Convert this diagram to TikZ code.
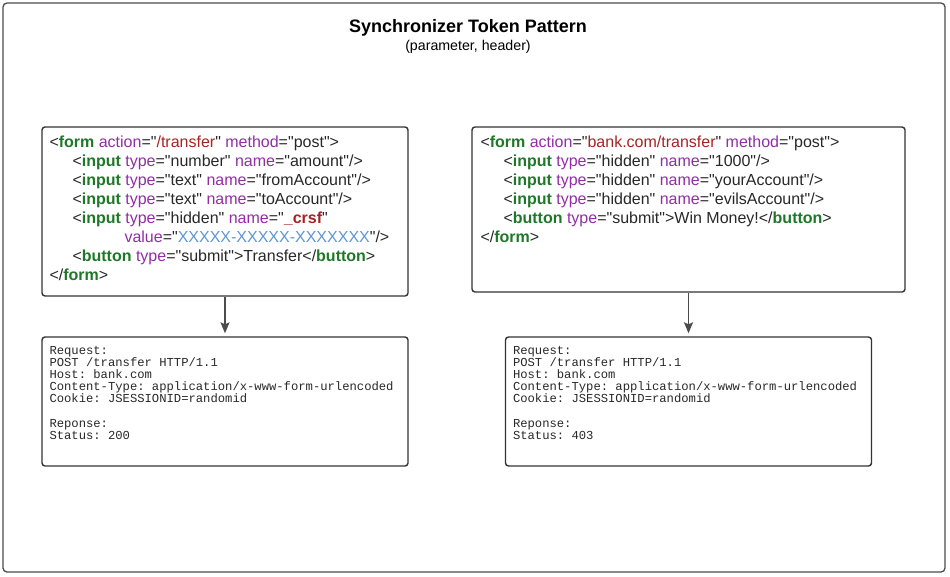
\documentclass[tikz,border=0pt]{standalone}
\usepackage{fontspec}
\setmainfont{Liberation Sans}
\setmonofont{Liberation Mono}
\newfontfamily\codefont{Liberation Sans}
\usetikzlibrary{arrows,arrows.meta,positioning}
\definecolor{tagc}{RGB}{30,120,40}
\definecolor{attc}{RGB}{145,45,165}
\definecolor{valc}{RGB}{165,35,35}
\definecolor{tokc}{RGB}{95,150,215}
\definecolor{inkc}{RGB}{40,40,40}
\tikzset{
    frame/.style={draw=black!70,line width=1.3pt,rounded corners=4pt},
    box/.style={draw=black!80,line width=1.4pt,rounded corners=3pt,inner sep=0pt},
    code/.style={anchor=north west,align=left,inner sep=0pt,text=inkc,font=\codefont\fontsize{16}{19.1}\selectfont},
    reqtext/.style={anchor=north west,align=left,inner sep=0pt,text=inkc,font=\ttfamily\fontsize{12.2}{12.2}\selectfont},
    pre/.style={-{Stealth[length=11pt,width=9pt,inset=2pt]},line width=1.2pt,draw=black!70,shorten >=3pt}
}
\newcommand{\tg}[1]{\textcolor{tagc}{\textbf{#1}}}
\newcommand{\at}[1]{\textcolor{attc}{#1}}
\newcommand{\vl}[1]{\textcolor{valc}{#1}}
\newcommand{\ind}{\hspace*{23pt}}

\begin{document}
\begin{tikzpicture}[x=1pt,y=-1pt]

                \useasboundingbox (0,0) rectangle (950,576);
                \draw[frame] (3,3) rectangle (945,572);

                \node         (title)    at (468,28) {\fontsize{18}{20}\selectfont\bfseries Synchronizer Token Pattern};
                \node         (subtitle) at (468,46.5) {\fontsize{14.2}{16}\selectfont (parameter, header)};

                % forms
                \node[box]    (form left)  [minimum width=366pt,minimum height=169pt] at (225,211.5)   {};
                \node[box]    (form right) [minimum width=433pt,minimum height=165pt] at (688.5,209.5) {};

                \node[code]   (code left)  [below right=9pt and 8pt of form left.north west]
                    {<\tg{form} \at{action}="\vl{/transfer}" \at{method}="post">\\
                     \ind<\tg{input} \at{type}="number" \at{name}="amount"/>\\
                     \ind<\tg{input} \at{type}="text" \at{name}="fromAccount"/>\\
                     \ind<\tg{input} \at{type}="text" \at{name}="toAccount"/>\\
                     \ind<\tg{input} \at{type}="hidden" \at{name}="\textcolor{valc}{\textbf{\_crsf}}"\\
                     \hspace*{75pt}\at{value}="\textcolor{tokc}{XXXXX-XXXXX-XXXXXXX}"/>\\
                     \ind<\tg{button} \at{type}="submit">Transfer</\tg{button}>\\
                     </\tg{form}>};

                \node[code]   (code right) [below right=9pt and 9pt of form right.north west]
                    {<\tg{form} \at{action}="\vl{bank.com/transfer}" \at{method}="post">\\
                     \ind<\tg{input} \at{type}="hidden" \at{name}="1000"/>\\
                     \ind<\tg{input} \at{type}="hidden" \at{name}="yourAccount"/>\\
                     \ind<\tg{input} \at{type}="hidden" \at{name}="evilsAccount"/>\\
                     \ind<\tg{button} \at{type}="submit">Win Money!</\tg{button}>\\
                     </\tg{form}>};

                % requests
                \node[box]    (req left)   [minimum width=366pt,minimum height=129pt] at (225,401.5)   {};
                \node[box]    (req right)  [minimum width=366pt,minimum height=129pt] at (688.5,401.5) {};

                \node[reqtext] (http left)  [below right=9.5pt and 8pt of req left.north west]
                    {Request:\\ POST /transfer HTTP/1.1\\ Host: bank.com\\
                     Content-Type: application/x-www-form-urlencoded\\
                     Cookie: JSESSIONID=randomid\\[12.2pt]
                     Reponse:\\ Status: 200};

                \node[reqtext] (http right) [below right=9.5pt and 8pt of req right.north west]
                    {Request:\\ POST /transfer HTTP/1.1\\ Host: bank.com\\
                     Content-Type: application/x-www-form-urlencoded\\
                     Cookie: JSESSIONID=randomid\\[12.2pt]
                     Reponse:\\ Status: 403};

                \draw[pre] (form left.south)  -- (req left.north);
                \draw[pre] (form right.south) -- (req right.north);

\end{tikzpicture}
\end{document}
